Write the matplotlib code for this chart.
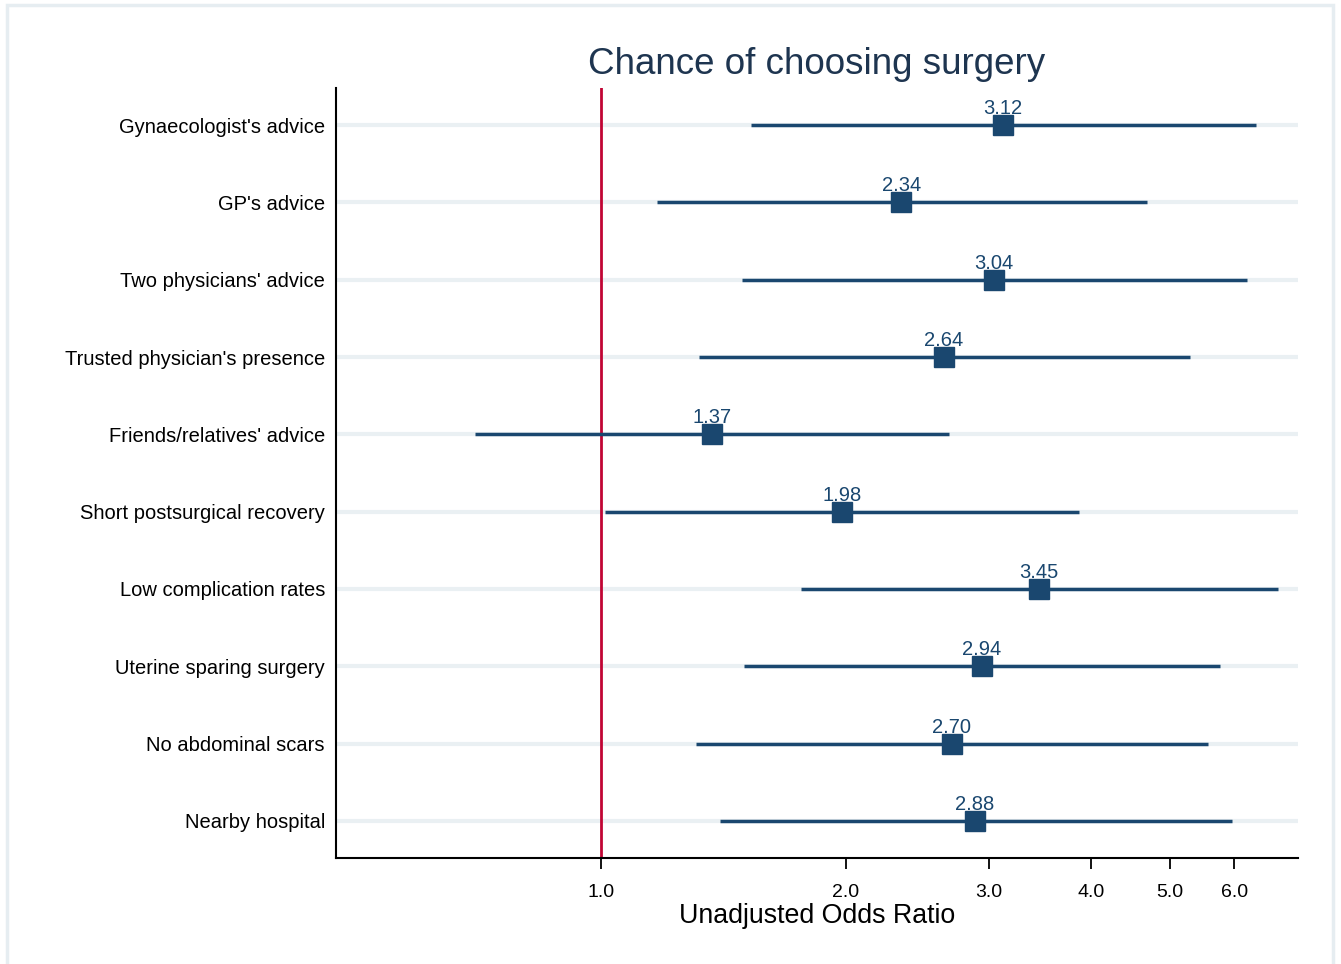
import matplotlib
matplotlib.use("Agg")
import matplotlib.pyplot as plt
from matplotlib.ticker import FixedLocator, NullLocator, FixedFormatter
from matplotlib.patches import Rectangle

plt.rcParams['font.family'] = ['Liberation Sans', 'DejaVu Sans']

categories = ["Gynaecologist's advice", "GP's advice", "Two physicians' advice",
              "Trusted physician's presence", "Friends/relatives' advice",
              "Short postsurgical recovery", "Low complication rates",
              "Uterine sparing surgery", "No abdominal scars", "Nearby hospital"]
odds = [3.12, 2.34, 3.04, 2.64, 1.37, 1.98, 3.45, 2.94, 2.70, 2.88]
ci_low = [1.53, 1.17, 1.49, 1.32, 0.70, 1.01, 1.76, 1.50, 1.31, 1.40]
ci_high = [6.38, 4.69, 6.22, 5.29, 2.68, 3.87, 6.79, 5.76, 5.58, 5.96]
xticks = [1.0, 2.0, 3.0, 4.0, 5.0, 6.0]
xtick_labels = ["1.0", "2.0", "3.0", "4.0", "5.0", "6.0"]

navy = '#1a476f'
red = '#c10534'
grid = '#eaf0f3'

fig = plt.figure(figsize=(13.41, 9.64), dpi=100)
fig.patches.append(Rectangle((7/1341, -0.01), (1333-7)/1341, 1.01-5/964, transform=fig.transFigure,
                             fill=False, edgecolor='#e6edf1', linewidth=2.5, zorder=0))
ax = fig.add_axes([336/1341, 1-858/964, (1298-336)/1341, (858-88)/964])
ax.set_xscale('log')
ax.set_xlim(0.4722, 7.19)
n = len(categories)
ypos = list(range(n, 0, -1))
ax.set_ylim(0.52, n + 0.48)

for y in ypos:
    ax.axhline(y, color=grid, lw=3, zorder=1)
ax.axvline(1.0, color=red, lw=2, zorder=2)
ax.hlines(ypos, ci_low, ci_high, color=navy, lw=2.5, zorder=3)
ax.plot(odds, ypos, 's', color=navy, markersize=14, zorder=4)
for x, y in zip(odds, ypos):
    ax.text(x, y + 0.09, f"{x:.2f}", ha='center', va='bottom', color=navy, fontsize=14.5, zorder=5)

ax.xaxis.set_major_locator(FixedLocator(xticks))
ax.xaxis.set_major_formatter(FixedFormatter(xtick_labels))
ax.xaxis.set_minor_locator(NullLocator())
ax.set_yticks(ypos)
ax.set_yticklabels(categories, fontsize=14.5)
ax.tick_params(axis='y', length=0, pad=8)
ax.tick_params(axis='x', length=8, width=1.3, labelsize=14, pad=11)
for s in ['top', 'right']:
    ax.spines[s].set_visible(False)
for s in ['left', 'bottom']:
    ax.spines[s].set_linewidth(1.5)
ax.set_xlabel("Unadjusted Odds Ratio", fontsize=19.3, labelpad=1)
ax.set_title("Chance of choosing surgery", fontsize=26.5, color='#1e3550', pad=10)

fig.savefig("out.png", dpi=100)
